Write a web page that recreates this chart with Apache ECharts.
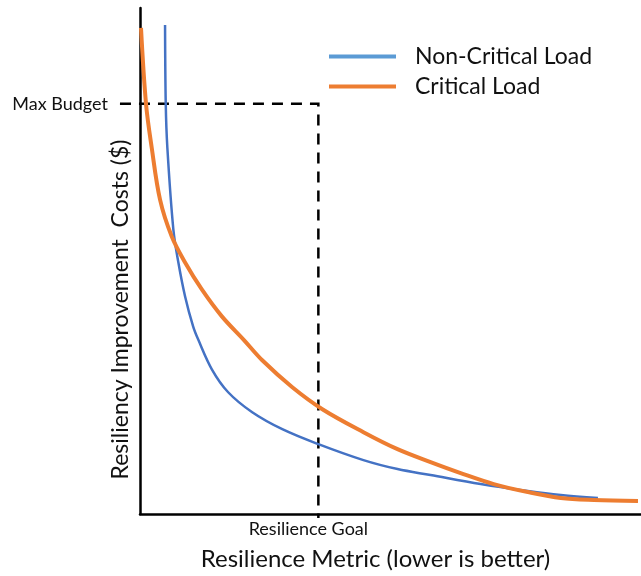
<!DOCTYPE html>
<html><head><meta charset="utf-8">
<script src="https://cdn.jsdelivr.net/npm/echarts@6/dist/echarts.min.js"></script>
<style>html,body{margin:0;padding:0;background:#fff}#c{width:641px;height:576px}</style>
</head><body><div id="c"></div>
<script>
// Curve data (x = resilience metric units, y = cost units)
const nonCriticalX = [25, 25.7, 27.3, 33.3, 38.3, 45, 53, 58, 71.7, 88, 112, 142, 178, 223, 257, 290, 340, 387, 420, 457];
const nonCriticalY = [490, 411, 367, 285, 252, 218, 188, 175, 145, 122, 102, 85, 70, 54, 45, 39, 30, 23, 19, 16];
const criticalX = [1, 6, 11.7, 20, 31.7, 45, 61.7, 81.7, 104, 122, 152, 182, 223, 257, 290, 320, 353, 387, 420, 453, 497];
const criticalY = [487, 411, 367, 315, 278, 252, 225, 198, 174, 154, 127, 105, 82, 65, 52, 41, 30, 22, 16, 14, 13];
const maxBudget = 411;
const resilienceGoal = 178;
const guideStartX = -20;
const guideEndY = -4;
const seriesNames = ['Non-Critical Load', 'Critical Load'];
const guideLabels = ['Max Budget', 'Resilience Goal'];

const zip = (xs, ys) => xs.map((x, i) => [x, ys[i]]);
const FONT = 'Lato';
const chart = echarts.init(document.getElementById('c'));
chart.setOption({
  animation: false,
  grid: { left: 140, right: 0, top: 8, bottom: 61 },
  textStyle: { fontFamily: FONT },
  legend: {
    orient: 'vertical', left: 324, top: 40, itemWidth: 67, itemHeight: 4, itemGap: 7,
    icon: 'rect',
    data: [
      { name: seriesNames[0], itemStyle: { color: '#5B9BD5' } },
      { name: seriesNames[1], itemStyle: { color: '#ED7D31' } }
    ],
    textStyle: { fontFamily: FONT, fontSize: 23, lineHeight: 22, color: '#111', padding: [0, 0, 0, 14] }
  },
  xAxis: {
    type: 'value', min: 0, max: 500,
    name: 'Resilience Metric (lower is better)', nameLocation: 'middle', nameGap: 33,
    nameTextStyle: { fontFamily: FONT, fontSize: 24, color: '#111', padding: [0, 30, 0, 0] },
    axisLine: { lineStyle: { color: '#000', width: 2.5 } },
    axisTick: { show: false }, axisLabel: { show: false }, splitLine: { show: false }
  },
  yAxis: {
    type: 'value', min: 0, max: 507,
    name: 'Resiliency Improvement  Costs ($)', nameLocation: 'middle', nameGap: 8,
    nameTextStyle: { fontFamily: FONT, fontSize: 23, color: '#111', padding: [0, 97, 0, 0] },
    axisLine: { lineStyle: { color: '#000', width: 2.5 } },
    axisTick: { show: false }, axisLabel: { show: false }, splitLine: { show: false }
  },
  series: [
    {
      name: seriesNames[0], type: 'line', data: zip(nonCriticalX, nonCriticalY),
      smooth: 0.35, symbol: 'none', color: '#4472C4', lineStyle: { width: 2.5 }
    },
    {
      name: seriesNames[1], type: 'line', data: zip(criticalX, criticalY),
      smooth: 0.35, symbol: 'none', color: '#ED7D31', lineStyle: { width: 4 }
    },
    {
      type: 'custom', clip: false, silent: true,
      data: [[resilienceGoal, maxBudget]],
      renderItem: function (params, api) {
        const pL = api.coord([guideStartX, maxBudget]);
        const pC = api.coord([resilienceGoal, maxBudget]);
        const pB = api.coord([resilienceGoal, guideEndY]);
        return {
          type: 'group',
          children: [
            { type: 'polyline', shape: { points: [pL, pC, pB] },
              style: { stroke: '#000', lineWidth: 2.5, lineDash: [11, 8], fill: null } },
            { type: 'text', x: pL[0] - 12, y: pL[1],
              style: { text: guideLabels[0], align: 'right', verticalAlign: 'middle',
                       font: '18px ' + FONT, fill: '#111' } },
            { type: 'text', x: pB[0] - 10, y: pB[1] + 2,
              style: { text: guideLabels[1], align: 'center', verticalAlign: 'top',
                       font: '18px ' + FONT, fill: '#111' } }
          ]
        };
      }
    }
  ]
});
</script></body></html>
